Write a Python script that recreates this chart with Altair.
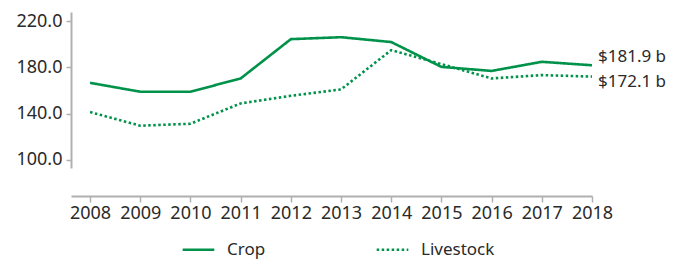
import altair as alt
import pandas as pd

years = list(range(2008, 2019))
crop = [166.7, 159.0, 159.0, 170.5, 204.5, 206.2, 202.0, 180.5, 177.0, 184.9, 181.9]
livestock = [141.4, 129.6, 131.3, 148.9, 155.5, 161.0, 195.0, 182.9, 170.5, 173.4, 172.1]
series_names = ["Crop", "Livestock"]
end_labels = ["$181.9 b", "$172.1 b"]

rows = []
for y, c, l in zip(years, crop, livestock):
    rows.append({"year": y, "value": c, "series": "Crop"})
    rows.append({"year": y, "value": l, "series": "Livestock"})
df = pd.DataFrame(rows)

green = "#00924A"
FONT = "Noto Sans"
FS = 18

x = alt.X("year:Q", scale=alt.Scale(domain=[2007.62, 2018], nice=False, zero=False),
          axis=alt.Axis(values=years, format="d", offset=28, tickSize=6, labelPadding=2,
                        labelOverlap=False, labelFlush=False,
                        domainColor="#b0b0b0", tickColor="#b0b0b0", labelFontSize=FS,
                        labelColor="#2a2a2a", labelFont=FONT, grid=False, title=None,
                        domainWidth=2, tickWidth=1.5))
y = alt.Y("value:Q", scale=alt.Scale(domain=[93, 228], nice=False, zero=False),
          axis=alt.Axis(values=[100, 140, 180, 220], format=".1f", tickSize=5, labelPadding=4,
                        labelOverlap=False,
                        domainColor="#b0b0b0", tickColor="#b0b0b0", labelFontSize=FS,
                        labelColor="#2a2a2a", labelFont=FONT, grid=False, title=None,
                        domainWidth=2, tickWidth=1.5))

lines = alt.Chart(df).mark_line(strokeWidth=2.6).encode(
    x=x, y=y,
    strokeDash=alt.StrokeDash("series:N",
        scale=alt.Scale(domain=series_names, range=[[1, 0], [2.5, 2.5]]),
        legend=alt.Legend(title=None, orient="none", legendX=110, legendY=220,
                          direction="horizontal", symbolType="stroke", symbolSize=1000,
                          symbolStrokeWidth=2.6, symbolStrokeColor=green,
                          labelFontSize=17, labelFont=FONT, labelColor="#2a2a2a",
                          labelOffset=11, columnPadding=105)),
    color=alt.value(green),
)

lab_df = pd.DataFrame({
    "year": [years[-1], years[-1]],
    "value": [crop[-1], livestock[-1]],
    "label": end_labels,
    "series": series_names,
})
lab1 = alt.Chart(lab_df[lab_df.series == "Crop"]).mark_text(
    align="left", baseline="middle", dx=6, dy=-8, fontSize=17, font=FONT, color="#2a2a2a"
).encode(x="year:Q", y="value:Q", text="label:N")
lab2 = alt.Chart(lab_df[lab_df.series == "Livestock"]).mark_text(
    align="left", baseline="middle", dx=6, dy=5, fontSize=17, font=FONT, color="#2a2a2a"
).encode(x="year:Q", y="value:Q", text="label:N")

chart = alt.layer(lines, lab1, lab2).properties(
    width=521, height=156,
    background="white",
    autosize=alt.AutoSizeParams(type="none"),
    padding={"left": 63, "top": 4, "right": 75, "bottom": 95},
).configure_view(stroke=None)

chart.save("out.html", embed_options={"renderer": "svg", "actions": False})
